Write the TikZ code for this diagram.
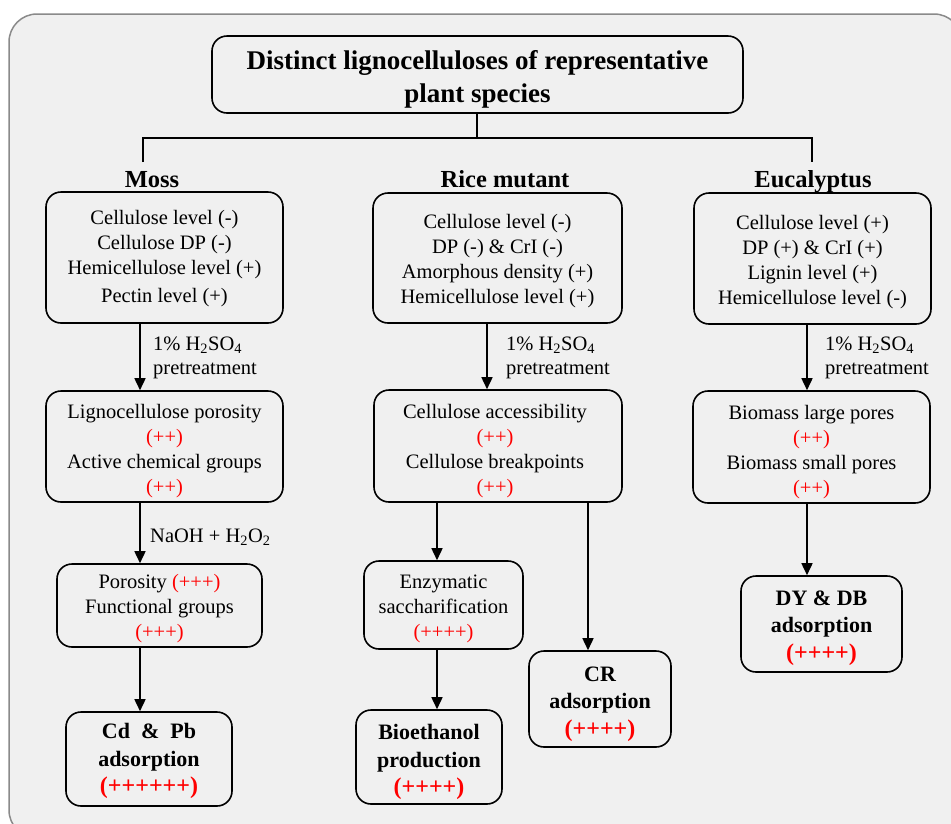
\documentclass[tikz,border=0pt]{standalone}
\usepackage{fontspec}
\setmainfont{Liberation Serif}
\usetikzlibrary{arrows.meta}
\definecolor{bg}{HTML}{F0F0F0}
\definecolor{framegray}{HTML}{8A8A8A}
\definecolor{plusred}{HTML}{FF0000}
\newcommand\redp[1]{\textcolor{plusred}{#1}}
\begin{document}
\begin{tikzpicture}[x=1pt,y=-1pt,
  box/.style={draw=black, line width=1.6pt, rounded corners=15pt, fill=bg, inner sep=0pt},
  txt/.style={align=center, inner sep=0pt, font=\fontsize{20.5}{25}\selectfont},
  btxt/.style={align=center, inner sep=0pt, font=\bfseries\fontsize{22}{27.5}\selectfont},
  arr/.style={line width=1.6pt, -{Triangle[width=11pt,length=12pt]}},
  tree/.style={line width=1.6pt},
  lbl/.style={anchor=west, align=left, inner sep=0pt, font=\fontsize{20.5}{24}\selectfont},
  head/.style={anchor=base, font=\bfseries\fontsize{24.5}{30}\selectfont, inner sep=0pt}]
\useasboundingbox (0,0) rectangle (951,823);
\fill[white] (0,0) rectangle (951,823);
\draw[framegray, fill=bg, line width=1.5pt, rounded corners=28pt] (9,14) rectangle (962,838);

% title
\node[box, minimum width=531pt, minimum height=77pt] (title) at (477.5,74.5) {};
\node[txt, font=\bfseries\fontsize{27}{33}\selectfont] (titlet) at ([yshift=-5pt]title.center)
  {Distinct lignocelluloses of representative\\plant species};

% tree
\coordinate (tj) at (477,138);
\coordinate (tl) at (143,138);
\coordinate (tr) at (812,138);
\coordinate (tle) at (143,162);
\coordinate (tre) at (812,162);
\draw[tree] (title.south -| tj) -- (tj);
\draw[tree] (tle) -- (tl) -- (tr) -- (tre);

% headers
\node[head] (hm) at (152,187) {Moss};
\node[head] (hr) at (505,187) {Rice mutant};
\node[head] (he) at (813,187) {Eucalyptus};

% Moss column
\node[box, minimum width=237pt, minimum height=131pt] (m1) at (164.5,257.5) {};
\node[txt] (m1t) at ([yshift=-1.5pt]m1.center)
  {Cellulose level (-)\\Cellulose DP (-)\\Hemicellulose level (+)\\[3pt]Pectin level (+)};
\node[box, minimum width=237pt, minimum height=111pt] (m2) at (164.5,446.5) {};
\node[txt] (m2t) at ([yshift=-4.5pt]m2.center)
  {Lignocellulose porosity\\\redp{(++)}\\Active chemical groups\\\redp{(++)}};
\node[box, minimum width=205pt, minimum height=83pt] (m3) at (159.5,605.5) {};
\node[txt] (m3t) at ([yshift=-3.5pt]m3.center)
  {Porosity \redp{(+++)}\\Functional groups\\\redp{(+++)}};
\node[box, minimum width=166pt, minimum height=94pt] (m4) at (149,759) {};
\node[btxt] (m4t) at ([yshift=-2pt]m4.center)
  {Cd~~\&~~Pb\\adsorption\\{\fontsize{24}{27.5}\selectfont\redp{(++++++)}}};

\draw[arr] ([xshift=-24.5pt]m1.south) -- ([xshift=-24.5pt]m2.north);
\draw[arr] ([xshift=-24.5pt]m2.south) -- ([xshift=-19.5pt]m3.north);
\draw[arr] ([xshift=-19.5pt]m3.south) -- ([xshift=-9pt]m4.north);
\node[lbl] (lm1) at (153,358) {1\% H\textsubscript{2}SO\textsubscript{4}\\pretreatment};
\node[lbl] (lm2) at (150,537) {NaOH + H\textsubscript{2}O\textsubscript{2}};

% Rice column
\node[box, minimum width=249pt, minimum height=130pt] (r1) at (497.5,258) {};
\node[txt] (r1t) at ([yshift=-3pt]r1.center)
  {Cellulose level (-)\\DP (-) \& CrI (-)\\Amorphous density (+)\\Hemicellulose level (+)};
\node[box, minimum width=248pt, minimum height=112pt] (r2) at (498,446) {};
\node[txt] (r2t) at ([xshift=-3pt,yshift=-5.5pt]r2.center)
  {Cellulose accessibility\\\redp{(++)}\\Cellulose breakpoints\\\redp{(++)}};
\node[box, minimum width=159pt, minimum height=88pt] (r3) at (443.5,605) {};
\node[txt] (r3t) at ([yshift=-3.5pt]r3.center)
  {Enzymatic\\saccharification\\\redp{(++++)}};
\node[box, minimum width=146pt, minimum height=94pt] (r4) at (429,757) {};
\node[btxt] (r4t) at ([yshift=-5pt]r4.center)
  {Bioethanol\\production\\{\fontsize{24}{27.5}\selectfont\redp{(++++)}}};
\node[box, minimum width=142pt, minimum height=96pt] (r5) at (600,699) {};
\node[btxt] (r5t) at ([yshift=-5pt]r5.center)
  {CR\\adsorption\\{\fontsize{24}{27.5}\selectfont\redp{(++++)}}};

\draw[arr] ([xshift=-10.5pt]r1.south) -- ([xshift=-11pt]r2.north);
\draw[arr] ([xshift=-61pt]r2.south) -- ([xshift=-6.5pt]r3.north);
\draw[arr] ([xshift=-6.5pt]r3.south) -- ([xshift=8pt]r4.north);
\draw[arr] ([xshift=90pt]r2.south) -- ([xshift=-12pt]r5.north);
\node[lbl] (lr1) at (506,358) {1\% H\textsubscript{2}SO\textsubscript{4}\\pretreatment};

% Eucalyptus column
\node[box, minimum width=237pt, minimum height=131pt] (e1) at (812.5,258.5) {};
\node[txt] (e1t) at ([yshift=-4pt]e1.center)
  {Cellulose level (+)\\DP (+) \& CrI (+)\\Lignin level (+)\\Hemicellulose level (-)};
\node[box, minimum width=237pt, minimum height=112pt] (e2) at (811.5,447) {};
\node[txt] (e2t) at ([yshift=-5pt]e2.center)
  {Biomass large pores\\\redp{(++)}\\Biomass small pores\\\redp{(++)}};
\node[box, minimum width=161pt, minimum height=96pt] (e3) at (821.5,624) {};
\node[btxt] (e3t) at ([yshift=-4pt]e3.center)
  {DY \& DB\\adsorption\\{\fontsize{24}{27.5}\selectfont\redp{(++++)}}};

\draw[arr] ([xshift=-5.5pt]e1.south) -- ([xshift=-4.5pt]e2.north);
\draw[arr] ([xshift=-4.5pt]e2.south) -- ([xshift=-14.5pt]e3.north);
\node[lbl] (le1) at (825,358) {1\% H\textsubscript{2}SO\textsubscript{4}\\pretreatment};
\end{tikzpicture}
\end{document}
